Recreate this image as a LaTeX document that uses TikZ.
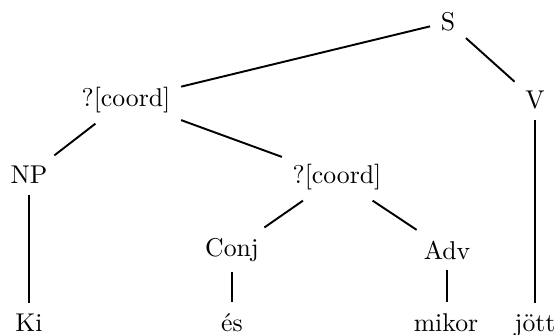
\documentclass[tikz,border=0pt]{standalone}
\begin{document}
\begin{tikzpicture}[x=0.389pt,y=-0.389pt,
  lbl/.style={inner sep=4pt},
  edge/.style={draw=black,line width=0.75pt}]
\useasboundingbox (0,0) rectangle (556,335);
\node[lbl] (S) at (448,22) {S};
\node[lbl] (C1) at (126,100) {?[coord]};
\node[lbl] (V) at (535,100) {V};
\node[lbl] (NP) at (29,175) {NP};
\node[lbl] (C2) at (337,177) {?[coord]};
\node[lbl] (Conj) at (232,250) {Conj};
\node[lbl] (Adv) at (447,250) {Adv};
\node[lbl,anchor=base] (Ki) at (29,331) {Ki};
\node[lbl,anchor=base] (es) at (232,331) {és};
\node[lbl,anchor=base] (mikor) at (446,331) {mikor};
\node[lbl,anchor=base] (jott) at (535,331) {jött};
\draw[edge] (S) -- (C1);
\draw[edge] (S) -- (V);
\draw[edge] (C1) -- (NP);
\draw[edge] (C1) -- (C2);
\draw[edge] (C2) -- (Conj);
\draw[edge] (C2) -- (Adv);
\draw[edge] (NP) -- (NP|-Ki.north);
\draw[edge] (Conj) -- (Conj|-es.north);
\draw[edge] (Adv) -- (Adv|-mikor.north);
\draw[edge] (V) -- (V|-jott.north);
\end{tikzpicture}
\end{document}
